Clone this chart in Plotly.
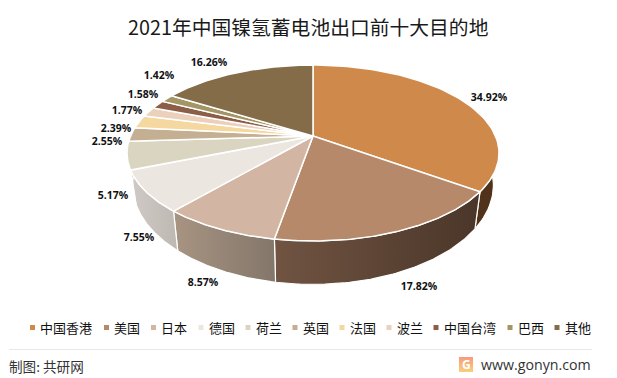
import numpy as np
import plotly.graph_objects as go

categories = ["中国香港", "美国", "日本", "德国", "荷兰", "英国", "法国", "波兰", "中国台湾", "巴西", "其他"]
shares = [34.92, 17.82, 8.57, 7.55, 5.17, 2.55, 2.39, 1.77, 1.58, 1.42, 16.26]
top_colors = ["#CF894B", "#B7896B", "#D2B6A3", "#ECE6E1", "#DAD5C0", "#C4AF92", "#F5D7A0", "#EBD0BC", "#8C5E47", "#A39564", "#846C48"]
wall_left = ["#56371C", "#715442", "#A89482", "#CFCAC5", "#C8C4B2", "#B0A088", "#E0C490", "#D6BFAE", "#7C5542", "#8F8358", "#746040"]
wall_right = ["#50321A", "#4A3629", "#83766A", "#BEB8B3", "#B8B4A3", "#A09078", "#D0B480", "#C6AF9E", "#6C4A38", "#7F734C", "#645438"]
label_x = [489, 419, 203, 139, 113, 107, 116, 127, 143, 159, 209]
label_y = [98, 287, 283, 238, 196, 142, 129, 111, 95, 76, 63]
legend_x = [32.5, 106.5, 153.5, 201, 248, 295, 342, 389, 436, 510, 557]
legend_y = 327.5

CX, CY, A, B, K = 313, 136, 182.5, 84.7, -0.193
SHIFT, YSCALE, SHRINK = 30, 1.128, 0.97


def project(theta, shift=0.0, xscale=1.0, yscale=1.0):
    u, v = np.sin(theta), -np.cos(theta)
    w = 1 + K * v
    return CX + xscale * A * u / w, CY + yscale * B * v / w + shift


fig = go.Figure()
edges = np.cumsum([0] + shares) / sum(shares) * 2 * np.pi

for i in range(len(shares)):
    t = np.linspace(edges[i], edges[i + 1], 80)
    xa, ya = project(t)
    xb, yb = project(t[::-1], shift=SHIFT, xscale=SHRINK, yscale=YSCALE)
    fig.add_trace(go.Scatter(
        x=np.r_[xa, xb, xa[0]], y=np.r_[ya, yb, ya[0]], mode="lines", fill="toself",
        line=dict(color="white", width=1.2), hoverinfo="skip", showlegend=False,
        fillgradient=dict(type="horizontal", colorscale=[[0, wall_left[i]], [1, wall_right[i]]]),
    ))

for i in range(len(shares)):
    t = np.linspace(edges[i], edges[i + 1], 80)
    xa, ya = project(t)
    fig.add_trace(go.Scatter(
        x=np.r_[CX, xa, CX], y=np.r_[CY, ya, CY], mode="lines", fill="toself", fillcolor=top_colors[i],
        line=dict(color="white", width=1.5), name=categories[i], hoverinfo="name", showlegend=False,
    ))

fig.add_trace(go.Scatter(
    x=label_x, y=label_y, mode="text", text=[f"{v:.2f}%" for v in shares], hoverinfo="skip", showlegend=False,
    textfont=dict(family="Open Sans", size=10.5, color="#111111", weight="bold"),
))
fig.add_trace(go.Scatter(
    x=legend_x, y=[legend_y] * len(categories), mode="markers", hoverinfo="skip", showlegend=False,
    marker=dict(symbol="square", size=5, color=top_colors, line=dict(width=0)),
))

for x, c in zip(legend_x, categories):
    fig.add_annotation(x=x + 5.5, y=legend_y - 0.5, text=c, showarrow=False, xanchor="left", yanchor="middle",
                       font=dict(family="Noto Sans CJK SC", size=13, color="#111111"))

fig.add_annotation(x=308, y=26, text="2021年中国镍氢蓄电池出口前十大目的地", showarrow=False,
                   font=dict(family="Noto Sans CJK SC", size=19.8, color="#1a1a1a"))
fig.add_annotation(x=7, y=365.5, text="制图: 共研网", showarrow=False, xanchor="left",
                   font=dict(family="Noto Sans CJK SC", size=13.6, color="#333333"))
fig.add_annotation(x=593, y=364.5, text="www.gonyn.com", showarrow=False, xanchor="right",
                   font=dict(family="Open Sans", size=14.2, color="#333333"))
fig.add_trace(go.Scatter(
    x=[459, 473, 473, 459, 459], y=[357, 357, 372, 372, 357], mode="lines", fill="toself", hoverinfo="skip",
    line=dict(width=0), showlegend=False,
    fillgradient=dict(type="vertical", colorscale=[[0, "#F9CF7A"], [1, "#F59A80"]]),
))
fig.add_annotation(x=466, y=364.5, text="<b>G</b>", showarrow=False,
                   font=dict(family="Open Sans", size=12, color="white"))
fig.add_shape(type="line", x0=9, x1=592, y0=349.5, y1=349.5, line=dict(color="#E8E8E8", width=1))

fig.update_layout(
    width=617, height=378, margin=dict(l=0, r=0, t=0, b=0), paper_bgcolor="white", plot_bgcolor="white",
    xaxis=dict(range=[0, 617], visible=False, fixedrange=True),
    yaxis=dict(range=[378, 0], visible=False, fixedrange=True),
)
fig.write_html("out.html", config={"displayModeBar": False},
               post_script="document.body.style.margin='0';document.documentElement.style.overflow='hidden';")
